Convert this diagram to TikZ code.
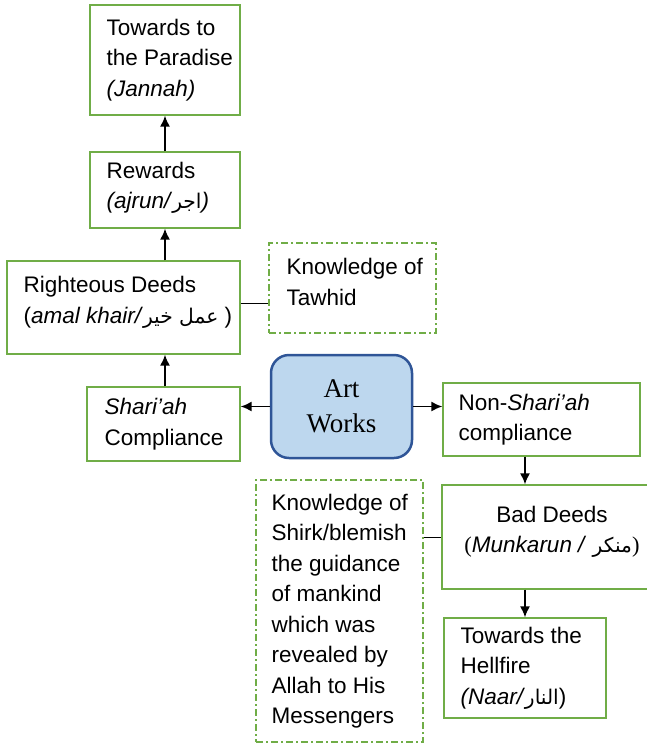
\documentclass[tikz,border=0pt]{standalone}
\usepackage{fontspec}
\setmainfont{Liberation Sans}
\newfontfamily\seriffont{Liberation Serif}
\newfontfamily\arabicfont[Script=Arabic,Scale=0.9]{DejaVu Sans}
\usetikzlibrary{arrows.meta}
\usepackage{color}
\TeXXeTstate=1
\newcommand{\arb}[1]{{\arabicfont\beginR #1\endR}}
\definecolor{boxgreen}{HTML}{70AD47}
\definecolor{artfill}{HTML}{BDD7EE}
\definecolor{artline}{HTML}{2F5597}

\begin{document}
\begin{tikzpicture}[x=1pt,y=-1pt,
  gbox/.style={draw=boxgreen,line width=1.3pt,inner sep=0pt},
  dbox/.style={gbox,dash pattern=on 7pt off 3pt on 2pt off 3pt},
  txt/.style={anchor=west,align=left,inner sep=0pt,font=\fontsize{22.5}{30.5}\selectfont},
  flow/.style={line width=1.6pt,-{Latex[length=11pt,width=10pt]}},
  link/.style={line width=0.9pt}]
\useasboundingbox (0,0) rectangle (647,745);
\clip (0,0) rectangle (647,745);

%Left column
\node[gbox,minimum width=150pt,minimum height=110pt] (paradise) at (165,60) {};
\node[txt] (paradise-t) at ([xshift=17pt]paradise.west)
  {Towards to\\the Paradise\\\textit{(Jannah)}};
\node[gbox,minimum width=150pt,minimum height=76pt] (rewards) at (165,190) {};
\node[txt] (rewards-t) at ([xshift=17pt,yshift=2pt]rewards.west)
  {Rewards\\\textit{(ajrun/}\arb{اجر}\textit{)}};
\node[gbox,minimum width=233pt,minimum height=93pt] (righteous) at (123.5,307.5) {};
\node[txt] (righteous-t) at ([xshift=17pt,yshift=5pt]righteous.west)
  {Righteous Deeds\\(\textit{amal khair/}\arb{عمل خير} )};
\node[dbox,minimum width=167pt,minimum height=90pt] (tawhid) at (352.5,288) {};
\node[txt] (tawhid-t) at ([xshift=18pt,yshift=6pt]tawhid.west)
  {Knowledge of\\Tawhid};
\node[gbox,minimum width=153pt,minimum height=74pt] (shariah) at (163.5,424) {};
\node[txt] (shariah-t) at ([xshift=18pt]shariah.west)
  {\textit{Shari’ah}\\Compliance};

%Centre
\node[draw=artline,fill=artfill,line width=2.5pt,rounded corners=18pt,
  minimum width=141pt,minimum height=103pt,align=center,
  font=\seriffont\fontsize{27}{35}\selectfont] (art) at (341.5,406.5) {Art\\Works};

%Right column
\node[gbox,minimum width=197pt,minimum height=73pt] (nonshariah) at (541.5,419.5) {};
\node[txt] (nonshariah-t) at ([xshift=16pt]nonshariah.west)
  {Non-\textit{Shari’ah}\\compliance};
\node[gbox,minimum width=220pt,minimum height=104pt] (bad) at (552,537) {};
\node[txt,anchor=center,align=center] (bad-t) at ([yshift=5pt]bad.center)
  {Bad Deeds\\{\seriffont(}\textit{Munkarun /} \arb{منكر}{\seriffont)}};
\node[gbox,minimum width=162pt,minimum height=100pt] (hell) at (525,668) {};
\node[txt] (hell-t) at ([xshift=17pt]hell.west)
  {Towards the\\Hellfire\\\textit{(Naar/}\arb{النار})};
\node[dbox,minimum width=167pt,minimum height=262pt] (shirk) at (339.5,611) {};
\node[txt] (shirk-t) at ([xshift=16pt]shirk.west)
  {Knowledge of\\Shirk/blemish\\the guidance\\of mankind\\which was\\revealed by\\Allah to His\\Messengers};

%Connectors
\draw[flow] (rewards.north) -- (paradise.south);
\draw[flow] (righteous.north -| rewards.south) -- (rewards.south);
\draw[flow] (shariah.north -| rewards.south) -- (rewards.south |- righteous.south);
\draw[flow] (art.west) -- (art.west -| shariah.east);
\draw[flow] (art.east) -- (art.east -| nonshariah.west);
\draw[flow] (hell.north |- nonshariah.south) -- (hell.north |- bad.north);
\draw[flow] (hell.north |- bad.south) -- (hell.north);
\draw[link] ([yshift=4.5pt]righteous.east) -- ([yshift=4.5pt]righteous.east -| tawhid.west);
\draw[link] (bad.west -| shirk.east) -- (bad.west);
\end{tikzpicture}
\end{document}
